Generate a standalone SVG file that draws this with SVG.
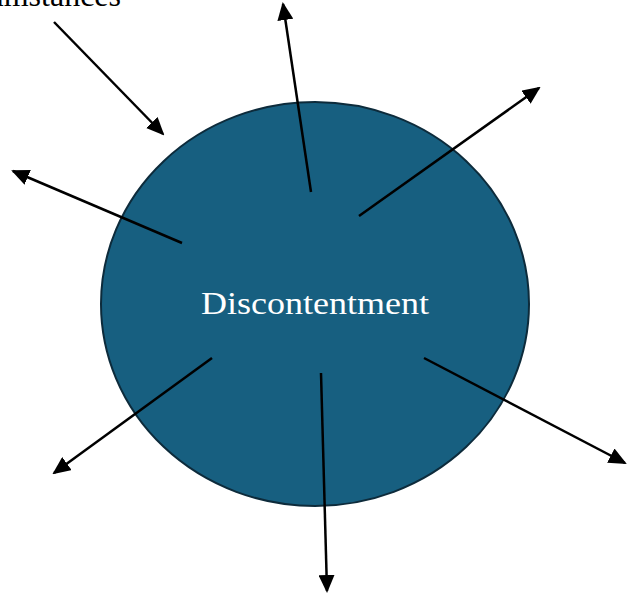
<svg xmlns="http://www.w3.org/2000/svg" width="628" height="593" viewBox="0 0 628 593">
<style>
.arrow{stroke:#000;stroke-width:2.5;fill:none;marker-end:url(#ah)}
.lbl{font-family:"Liberation Serif","DejaVu Serif",serif}
</style>
<defs>
<marker id="ah" markerUnits="userSpaceOnUse" markerWidth="18" markerHeight="16" viewBox="0 0 18 16" refX="16" refY="8" orient="auto">
<path d="M0,0 L18,8 L0,16 Z" fill="#000"/>
</marker>
</defs>
<rect width="628" height="593" fill="#fff"/>
<g id="node-circumstances">
<text class="lbl" x="121" y="6" font-size="32" text-anchor="end" fill="#000">Circumstances</text>
</g>
<g id="node-discontentment">
<ellipse cx="315" cy="304" rx="214" ry="202" fill="#175f80" stroke="#0d2b3b" stroke-width="2"/>
<text class="lbl" x="201" y="314" font-size="31" textLength="228" lengthAdjust="spacingAndGlyphs" fill="#fff">Discontentment</text>
</g>
<g id="connectors">
<line class="arrow" x1="54" y1="22" x2="163" y2="134"/>
<line class="arrow" x1="311" y1="192" x2="283" y2="4"/>
<line class="arrow" x1="359" y1="216" x2="539" y2="88"/>
<line class="arrow" x1="182" y1="243" x2="13" y2="171"/>
<line class="arrow" x1="212" y1="358" x2="54" y2="473"/>
<line class="arrow" x1="321" y1="373" x2="327" y2="591"/>
<line class="arrow" x1="424" y1="358" x2="625" y2="463"/>
</g>
</svg>
